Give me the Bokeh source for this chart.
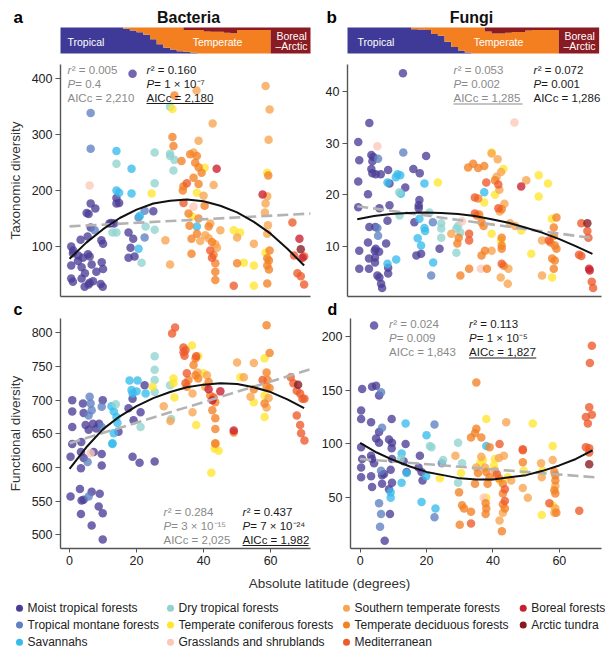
from bokeh.plotting import figure
from bokeh.layouts import column, row
from bokeh.models import Label, Range1d, FixedTicker
from bokeh.embed import file_html
from bokeh.resources import INLINE

FONT = "Liberation Sans"

# ---------------- data ----------------
BIOMES = ["MT", "TM", "SV", "DT", "TC", "GS", "ST", "TD", "MD", "BF", "AT"]
BIOME_LABELS = ["Moist tropical forests", "Tropical montane forests", "Savannahs",
                "Dry tropical forests", "Temperate coniferous forests", "Grasslands and shrublands",
                "Southern temperate forests", "Temperate deciduous forests", "Mediterranean",
                "Boreal forests", "Arctic tundra"]
BIOME_COLORS = ["#4b3d96", "#5f80c2", "#37bbec", "#8fd3cf", "#ffe62e", "#fbc8b8",
                "#f8a450", "#f48024", "#ee5a2a", "#c91f2e", "#861a20"]

ZONE_COLORS = ["#3f3a97", "#f37f21", "#8a1b22"]

BAND_LAT = [-4, -2, 0, 2, 4, 6, 8, 10, 12, 14, 16, 18, 20, 22, 24, 26, 28, 30, 32, 34, 36,
            38, 40, 42, 44, 46, 48, 50, 52, 54, 56, 58, 60, 62, 64, 66, 68, 70]
A_BAND_TROP = [1, 1, 1, 1, 1, 1, 1, 1, 1, 1, 0.95, 0.88, 0.82, 0.72, 0.55, 0.36, 0.22, 0.15, 0.09, 0.07, 0.03,
               0, 0, 0, 0, 0, 0, 0, 0, 0, 0, 0, 0, 0, 0, 0, 0, 0]
A_BAND_BOREAL = [0, 0, 0, 0, 0, 0, 0, 0, 0, 0, 0, 0, 0, 0, 0, 0, 0, 0, 0, 0.1, 0.1,
                 0.1, 0.15, 0.16, 0.16, 0.2, 0.22, 0.1, 0.1, 0.1, 0.1, 0.1, 1, 1, 1, 1, 1, 1]
B_BAND_TROP = [1, 1, 1, 1, 1, 1, 1, 1, 1, 1, 0.93, 0.92, 0.9, 0.75, 0.68, 0.45, 0.25, 0.12, 0.04, 0, 0,
               0, 0, 0, 0, 0, 0, 0, 0, 0, 0, 0, 0, 0, 0, 0, 0, 0]
B_BAND_BOREAL = [0, 0, 0, 0, 0, 0, 0, 0, 0, 0, 0, 0, 0, 0, 0, 0, 0, 0, 0, 0, 0,
                 0.15, 0.23, 0.23, 0.2, 0.17, 0.17, 0.12, 0.1, 0.1, 0.1, 0.1, 1, 1, 1, 1, 1, 1]

A_POINTS = [
    (18.8, 409, "MT"), (6.3, 339, "TM"), (6.3, 275, "TM"), (14, 271, "SV"), (25.4, 268, "DT"), (30, 266, "DT"),
    (30, 350, "DT"), (30.7, 346, "TC"), (31.3, 370, "TD"), (37.9, 379, "ST"), (30.7, 296, "TD"), (31, 280, "TD"),
    (38.5, 289, "ST"), (42.7, 320, "ST"), (58.5, 387, "ST"), (59.7, 345, "ST"), (59.4, 291, "ST"), (37, 268, "ST"),
    (36, 265, "TD"), (38, 262, "TD"), (33.4, 253, "TD"), (14, 248, "DT"), (18.5, 239, "SV"), (30, 262, "DT"),
    (31.3, 255, "DT"), (31, 236, "DT"), (25.4, 213, "DT"), (24.5, 195, "TC"), (37.5, 250, "TD"), (38.5, 242, "TD"),
    (39.4, 232, "TD"), (40.3, 241, "TC"), (43.9, 239, "BF"), (37, 223, "TD"), (35, 213, "MD"), (34, 208, "TD"),
    (33.8, 200, "TD"), (38.5, 212, "TD"), (38, 196, "TC"), (40, 191, "ST"), (43, 210, "ST"), (34, 178, "MD"),
    (37, 171, "GS"), (35.5, 159, "TD"), (36.5, 154, "TC"), (40.3, 173, "TD"), (38.5, 150, "TD"), (42, 141, "ST"),
    (41.5, 136, "TD"), (38, 136, "SV"), (35.8, 137, "TD"), (45, 129, "ST"), (40.5, 120, "ST"), (41.5, 115, "ST"),
    (42.5, 108, "TD"), (43.5, 104, "ST"), (44, 98, "ST"), (36.4, 114, "TD"), (38, 123, "TD"), (39, 110, "ST"),
    (42, 93, "MD"), (43, 85, "TD"), (42.5, 80, "MD"), (43.5, 70, "TD"), (43.5, 55, "TD"), (43.5, 40, "TD"),
    (36.4, 87, "TD"), (30, 68, "ST"), (28.6, 111, "ST"), (49, 129, "TC"), (50.9, 125, "TC"), (50, 116, "ST"),
    (55, 105, "ST"), (50, 70, "TD"), (52, 71, "TC"), (49, 30, "MD"), (55, 30, "TC"), (59, 34, "TD"),
    (55, 66, "TC"), (58.5, 89, "TC"), (59, 79, "TD"), (59.5, 75, "TD"), (59, 66, "TD"), (59.5, 59, "TD"),
    (59, 232, "TC"), (59.3, 227, "TD"), (57.6, 193, "BF"), (59, 190, "ST"), (58.5, 177, "ST"), (58.3, 161, "ST"),
    (59.2, 138, "ST"), (59, 123, "ST"), (59.7, 93, "TD"), (66.5, 143, "MD"), (68.6, 114, "BF"), (69, 95, "AT"),
    (67, 84, "MD"), (69.5, 80, "BF"), (70, 82, "MD"), (68, 52, "MD"), (69, 47, "MD"), (70, 32, "MD"),
    (6, 209, "GS"), (6.3, 177, "MT"), (7.7, 168, "MT"), (5.1, 160, "MT"), (5.7, 158, "MT"), (11.9, 141, "MT"),
    (6.3, 134, "MT"), (7.5, 129, "TM"), (0.5, 100, "MT"), (1.1, 93, "MT"), (3.3, 112, "MT"), (5.4, 118, "MT"),
    (9.5, 111, "MT"), (10, 105, "MT"), (1, 88, "MT"), (2.6, 84, "MT"), (4, 80, "MT"), (5.5, 86, "MT"),
    (6, 82, "MT"), (0.5, 66, "MT"), (3.6, 63, "MT"), (6.6, 68, "MT"), (9.6, 72, "MT"), (10, 60, "MT"),
    (0.5, 43, "MT"), (1, 37, "MT"), (3.6, 43, "MT"), (6, 35, "MT"), (9.3, 33, "MT"), (9.9, 28, "MT"),
    (4.5, 28, "MT"), (5.7, 32, "MT"), (7, 38, "MT"), (2.5, 74, "MT"), (8, 55, "MT"), (4.6, 52, "MT"),
    (14, 125, "DT"), (13.3, 141, "MT"), (12.5, 142, "MT"), (17.6, 125, "MT"), (19, 114, "MT"), (18.2, 98, "MT"),
    (19.4, 82, "MT"), (17.6, 80, "MT"), (20.6, 96, "SV"), (21.5, 71, "DT"), (22.4, 116, "TM"), (22.7, 136, "DT"),
    (20.6, 152, "TM"), (21, 155, "SV"), (25, 163, "MT"), (22.4, 164, "TM"), (14, 200, "SV"), (14.8, 196, "SV"),
    (14, 187, "MT"), (14.8, 178, "MT"), (14, 177, "MT"), (18.5, 195, "SV"), (25.4, 130, "DT"), (12.8, 125, "DT"),
]

B_POINTS = [
    (13.6, 43.5, "MT"), (3.6, 33.9, "MT"), (0.3, 30.2, "MT"), (6, 29.4, "GS"), (13.7, 28.2, "TM"), (20.5, 27.5, "MT"),
    (4.8, 27.3, "MT"), (6.2, 27, "TM"), (0.6, 26.7, "MT"), (40, 28, "ST"), (41.8, 26.9, "ST"), (46.8, 34, "GS"),
    (4.2, 27.7, "MT"), (4.5, 26.5, "MT"), (4.2, 25, "MT"), (4.5, 24.2, "MT"), (5.5, 24, "MT"), (7, 24, "MT"),
    (0.3, 22.6, "MT"), (3.2, 20.1, "MT"), (9.2, 24.8, "MT"), (9.6, 22.2, "MT"), (9, 22.4, "SV"),
    (12, 24, "SV"), (12.8, 23.8, "SV"), (11.5, 23.4, "SV"), (12.5, 20.5, "DT"), (13, 20.2, "SV"), (14.3, 21.4, "MT"),
    (16.7, 25, "MT"), (18.6, 24.2, "MT"), (20, 22.2, "SV"), (24, 22.4, "TC"), (18.5, 19, "MT"),
    (18.3, 18, "MT"), (18.3, 17.4, "MT"), (9.6, 18, "MT"), (6.6, 17.4, "MT"), (0.3, 17.6, "MT"), (12.6, 16, "DT"),
    (9, 15, "MT"), (17, 14.7, "MT"), (18.5, 15.4, "SV"), (21.5, 16.6, "DT"), (3.6, 13.8, "MT"), (5.4, 13.8, "MT"),
    (6, 13.6, "TM"), (6.2, 12.1, "TM"), (20, 13.6, "SV"), (20.2, 13, "SV"), (22.5, 14.7, "TM"), (25, 14.5, "DT"),
    (25, 13.5, "DT"), (25, 11.7, "DT"), (24.5, 9.6, "MT"), (0.6, 9.2, "MT"), (3.2, 10.8, "MT"), (5.5, 9.6, "MT"),
    (5.2, 9.2, "MT"), (6.5, 9, "MT"), (8.6, 10.6, "MT"), (0.6, 5.7, "MT"), (3.5, 5.7, "MT"), (3.5, 7.7, "MT"),
    (5.3, 7.9, "MT"), (5.3, 6.9, "MT"), (9.2, 5.9, "MT"), (9.2, 4.8, "MT"), (9, 6.7, "SV"), (6, 4.4, "MT"),
    (6.6, 4, "MT"), (7.1, 2.8, "MT"), (7.4, 2, "MT"), (11.6, 7.5, "SV"), (17.6, 8.3, "MT"), (19, 8.6, "MT"),
    (18, 11.6, "SV"), (19, 10.2, "SV"), (22.6, 6.9, "SV"), (22, 4.4, "TM"), (29.5, 8.8, "DT"), (29.5, 13.5, "DT"),
    (30.7, 12.7, "DT"), (30, 14, "DT"), (28, 12.5, "ST"), (31.2, 14.9, "GS"), (29.8, 10.6, "TD"), (30.2, 11.7, "TD"),
    (30.7, 4.4, "TD"), (33.3, 12.5, "MD"), (33.3, 11.2, "MD"), (33.3, 5.7, "TD"), (33, 25.3, "TD"), (34.5, 26, "TD"),
    (36, 25.2, "TD"), (37.8, 25.6, "TD"), (35, 19.5, "MD"), (36, 19.3, "TD"), (35, 16.4, "MD"), (35.6, 16, "TD"),
    (36.3, 16.2, "TD"), (37, 14.7, "TD"), (37.6, 14, "TD"), (37.8, 20.5, "SV"), (37.8, 18.5, "TC"), (38.4, 22.4, "MD"),
    (37, 8.3, "TD"), (38, 9.2, "TD"), (40, 9.2, "ST"), (36.8, 5.7, "GS"), (38.6, 5.7, "TD"), (40, 12.5, "TC"),
    (41, 22.8, "TD"), (41.5, 23.5, "ST"), (42, 22, "MD"), (42.3, 21, "ST"), (40, 28.2, "TC"), (42.8, 24.4, "ST"),
    (43.5, 25, "TC"), (41, 20, "TC"), (42, 17.4, "MD"), (42.4, 16.8, "ST"), (43, 17.2, "TD"), (43.8, 18.3, "ST"),
    (43, 11.7, "TD"), (43, 10.2, "TD"), (43, 9.6, "TD"), (42.8, 11.2, "TC"), (43, 6.7, "MD"), (43.6, 6.3, "TD"),
    (45, 5.7, "ST"), (42.7, 4, "ST"), (44.8, 2.8, "ST"), (45.5, 14.5, "ST"), (47, 14, "ST"), (48.8, 13.1, "TC"),
    (48.8, 21.6, "BF"), (50.3, 22.8, "ST"), (54, 23.8, "TC"), (56.8, 22.2, "TC"), (54, 19.7, "TC"), (51.8, 8.6, "TC"),
    (55, 11.2, "ST"), (57, 11.2, "MD"), (57.5, 10.8, "TD"), (55, 4.4, "ST"), (57.9, 15.4, "TC"), (58.5, 13.7, "TD"),
    (59.3, 15.6, "TD"), (58.5, 12.1, "TD"), (58.8, 10.2, "TD"), (59.3, 9.6, "TD"), (58, 7.7, "TD"), (58.8, 7.3, "TD"),
    (58.5, 5.7, "TD"), (58, 4, "TC"), (66.7, 14.5, "MD"), (68.5, 14.5, "AT"), (68.5, 13, "MD"), (68.8, 11.7, "MD"),
    (66, 8.4, "MD"), (66.7, 8.2, "MD"), (69, 5.7, "BF"), (69.2, 5.4, "BF"), (69.8, 3.2, "MD"), (70.2, 2, "MD"),
]

C_POINTS = [
    (0.8, 700, "MT"), (0.8, 683, "MT"), (0.8, 660, "MT"), (0.8, 635, "MT"), (4, 695, "MT"), (4.2, 681, "MT"),
    (3.5, 638, "MT"), (6, 705, "TM"), (6.3, 695, "TM"), (6.6, 685, "TM"), (5.7, 677, "TM"), (4.8, 663, "MT"),
    (5.7, 656, "MT"), (9.9, 700, "MT"), (9.6, 690, "TM"), (7, 665, "MT"), (8, 658, "MT"), (8.8, 665, "MT"),
    (9.6, 660, "TM"), (12.5, 691, "SV"), (13.8, 694, "DT"), (13.2, 683, "SV"), (14, 675, "SV"), (14.3, 666, "SV"),
    (13.2, 651, "SV"), (12.8, 636, "SV"), (14.6, 653, "MT"), (17.6, 688, "MT"), (18.5, 715, "SV"), (20.3, 729, "SV"),
    (20, 713, "SV"), (17.9, 729, "SV"), (18.8, 710, "SV"), (18.8, 702, "MT"), (19.1, 670, "MT"), (21.2, 682, "MT"),
    (22.4, 722, "MT"), (22.7, 710, "SV"), (21.2, 660, "DT"), (24.8, 720, "TC"), (25.4, 765, "DT"), (25.4, 745, "DT"),
    (25.4, 730, "DT"), (25.4, 712, "DT"), (28.1, 691, "ST"), (30.1, 669, "ST"), (30, 722, "DT"), (30.3, 672, "DT"),
    (31, 732, "TC"), (31, 725, "TC"), (31.3, 704, "TC"), (30.6, 799, "MD"), (31.5, 808, "MD"), (34, 778, "MD"),
    (34, 771, "MD"), (34.3, 766, "MD"), (34.6, 774, "MD"), (35, 740, "MD"), (35.5, 730, "TD"), (34.6, 725, "MD"),
    (35, 720, "TD"), (36.7, 710, "ST"), (36.7, 682, "ST"), (36.5, 781, "TC"), (37.8, 765, "MD"), (37.6, 762, "TD"),
    (37, 752, "TD"), (38.4, 765, "TC"), (37.6, 737, "TD"), (38.4, 732, "TD"), (38.2, 741, "ST"), (37.8, 663, "TC"),
    (40, 740, "TC"), (41, 737, "ST"), (41.5, 727, "TD"), (40.5, 720, "ST"), (41.5, 716, "BF"), (42, 707, "TD"),
    (43, 704, "MD"), (42.6, 700, "BF"), (43.5, 697, "TD"), (42.6, 685, "TD"), (43.5, 673, "TD"), (43.5, 657, "TD"),
    (43.5, 636, "TD"), (45, 713, "BF"), (50, 756, "ST"), (51, 734, "TC"), (52, 734, "ST"), (49, 655, "BF"),
    (49, 652, "TD"), (54, 705, "ST"), (55, 697, "TC"), (55, 755, "ST"), (55, 716, "TD"), (58.8, 811, "TD"),
    (59.7, 770, "TD"), (58.2, 762, "TC"), (58.8, 741, "TD"), (59.1, 730, "TD"), (58.8, 720, "TD"), (58.2, 707, "TC"),
    (59.4, 703, "ST"), (58.2, 695, "TD"), (58.8, 689, "ST"), (58.2, 675, "TC"), (59.7, 718, "TD"), (57.6, 730, "MD"),
    (66, 734, "MD"), (66.8, 725, "MD"), (68.2, 723, "AT"), (67.8, 714, "MD"), (68.8, 710, "MD"), (69.5, 702, "MD"),
    (70.1, 702, "MD"), (67.8, 677, "MD"), (68.8, 663, "MD"), (69.1, 651, "MD"), (70.1, 640, "MD"),
    (0.3, 616, "MT"), (3.4, 623, "MT"), (4.2, 614, "MT"), (5.4, 608, "TM"), (6.3, 621, "GS"), (7.2, 623, "MT"),
    (9.6, 620, "MT"), (9.6, 603, "MT"), (3.4, 599, "MT"), (12.8, 635, "SV"), (18.8, 616, "MT"), (20.9, 607, "MT"),
    (25.4, 609, "MT"), (0.3, 557, "MT"), (3.1, 568, "MT"), (3.6, 551, "MT"), (4.2, 552, "MT"), (5.7, 557, "TM"),
    (6.6, 564, "MT"), (9, 561, "MT"), (3.4, 531, "MT"), (8.7, 542, "MT"), (9.9, 532, "MT"), (6.6, 514, "MT"),
    (9.9, 493, "MT"), (43.5, 635, "ST"), (43.3, 628, "TC"), (44.5, 625, "TC"), (42.3, 592, "TC"),
]

D_POINTS = [
    (4.2, 210, "MT"), (0.6, 151, "MT"), (3.6, 153, "MT"), (4.8, 154, "MT"), (5.7, 145, "MT"), (6.3, 148, "TM"),
    (0.3, 131, "MT"), (0.3, 123, "MT"), (3.3, 120, "MT"), (6.6, 115, "TM"), (5.7, 111, "MT"), (4.8, 105, "MT"),
    (5.7, 101, "MT"), (9.5, 123, "MT"), (8.7, 104, "MT"), (9.5, 96, "MT"), (13.7, 119, "SV"), (13.7, 100, "MT"),
    (22.4, 118, "TM"), (20, 108, "SV"), (21, 98, "DT"), (29.5, 101, "DT"), (35, 157, "TD"), (35, 114, "TD"),
    (34.6, 110, "TD"), (33.4, 106, "TD"), (36.5, 106, "TD"), (38, 123, "TC"), (38, 98, "SV"), (39, 97, "TD"),
    (42, 100, "MD"), (44, 120, "ST"), (52, 119, "TC"), (58, 98, "TC"), (49, 95, "MD"), (69.8, 191, "MD"),
    (69.2, 175, "MD"), (69, 134, "MD"), (69.8, 127, "MD"), (68, 125, "MD"), (68.6, 119, "MD"), (68, 97, "MD"),
    (69, 96, "MD"), (0.3, 97, "MT"), (0.6, 86, "MT"), (0.3, 78, "MT"), (0.3, 69, "MT"), (3.3, 89, "MT"),
    (3.6, 86, "MT"), (4.2, 82, "MT"), (3.3, 70, "MT"), (3.6, 60, "MT"), (6.3, 75, "TM"), (7.2, 72, "MT"),
    (6.6, 71, "MT"), (6.6, 63, "MT"), (5.7, 45, "TM"), (6.3, 35, "TM"), (6, 23, "TM"), (7.4, 10, "MT"),
    (8.7, 58, "MT"), (9.2, 55, "SV"), (9.2, 50, "SV"), (9, 35, "MT"), (9.6, 101, "MT"), (9.6, 86, "MT"),
    (9.2, 76, "MT"), (9.6, 64, "MT"), (12.5, 91, "SV"), (12.2, 86, "DT"), (13.1, 84, "MT"), (14, 74, "MT"),
    (14, 73, "SV"), (12.5, 64, "SV"), (18, 89, "MT"), (17.6, 78, "MT"), (18.5, 74, "MT"), (18.8, 66, "MT"),
    (19.9, 70, "SV"), (18.5, 46, "SV"), (22.7, 40, "SV"), (22.4, 32, "TM"), (21.5, 97, "DT"), (24, 68, "TC"),
    (24.6, 82, "TM"), (25, 85, "DT"), (28.7, 89, "ST"), (29.5, 64, "DT"), (29.8, 55, "TD"), (30.7, 82, "DT"),
    (30.4, 73, "TC"), (30.7, 43, "TD"), (31.3, 40, "TD"), (30, 25, "TD"), (33.4, 26, "MD"), (33.4, 37, "TD"),
    (34.6, 63, "TD"), (35, 78, "ST"), (35.5, 73, "TD"), (36.2, 82, "TC"), (36.5, 88, "ST"), (37, 85, "TC"),
    (37.6, 78, "ST"), (38, 74, "TD"), (38, 50, "TC"), (37.2, 50, "GS"), (37.8, 45, "TD"), (38, 40, "TD"),
    (37.8, 35, "TD"), (38.4, 63, "TD"), (39, 69, "TD"), (40.3, 80, "TC"), (40.6, 75, "ST"), (41.2, 72, "MD"),
    (41.8, 68, "TD"), (42.1, 66, "TC"), (40.6, 86, "TC"), (41.8, 87, "ST"), (43.3, 89, "ST"), (43, 63, "TD"),
    (43.6, 58, "MD"), (43, 54, "TD"), (43.6, 47, "MD"), (43, 44, "TD"), (43.6, 40, "TD"), (43, 36, "ST"),
    (42, 29, "ST"), (42.7, 19, "TD"), (44.5, 69, "TC"), (45.5, 66, "ST"), (49, 94, "MD"), (49, 83, "TD"),
    (49.3, 75, "TC"), (49, 59, "ST"), (50.5, 50, "ST"), (54.5, 82, "ST"), (55, 75, "TC"), (54.7, 69, "ST"),
    (54.7, 34, "TC"), (57, 45, "MD"), (58, 85, "ST"), (58.5, 74, "TD"), (58.8, 71, "TD"), (58.8, 66, "TD"),
    (58.8, 61, "ST"), (58.5, 57, "TD"), (58.8, 54, "TD"), (58, 43, "TC"), (58.8, 40, "ST"), (59.1, 36, "TD"),
    (58.5, 36, "ST"), (66, 38, "MD"), (69, 81, "AT"), (69, 92, "MD"),
]

FIT_LAT = [0, 5, 10, 15, 20, 25, 30, 35, 40, 45, 50, 55, 60, 65, 70]
A_QUAD = [78, 107, 131, 151, 166, 177, 182, 184, 181, 173, 161, 144, 123, 96, 66]
B_QUAD = [15.3, 15.9, 16.3, 16.5, 16.6, 16.5, 16.3, 15.9, 15.3, 14.6, 13.7, 12.7, 11.5, 10.1, 8.6]
C_QUAD = [598, 630, 657, 676, 691, 703, 712, 719, 723, 725, 724, 719, 712, 701, 688]
D_QUAD = [101, 92, 85, 79, 74, 71, 68, 67, 67, 69, 71, 75, 80, 86, 94]
A_LIN_LAT, A_LIN = [0, 72], [136, 159]
B_LIN_LAT, B_LIN = [0, 70.5], [17.8, 11.6]
C_LIN_LAT, C_LIN = [0, 72], [636, 746]
D_LIN_LAT, D_LIN = [0, 70.7], [86, 69]

# (r2, P, AICc) for the linear (grey) and quadratic (black) fits
A_STATS_LIN, A_STATS_QUAD = ["0.005", "0.4", "2,210"], ["0.160", "1 × 10⁻⁷", "2,180"]
B_STATS_LIN, B_STATS_QUAD = ["0.053", "0.002", "1,285"], ["0.072", "0.001", "1,286"]
C_STATS_LIN, C_STATS_QUAD = ["0.284", "3 × 10⁻¹⁵", "2,025"], ["0.437", "7 × 10⁻²⁴", "1,982"]
D_STATS_LIN, D_STATS_QUAD = ["0.024", "0.009", "1,843"], ["0.113", "1 × 10⁻⁵", "1,827"]

A_TICKS = [100, 200, 300, 400]
B_TICKS = [10, 20, 30, 40]
C_TICKS = [500, 550, 600, 650, 700, 750, 800]
D_TICKS = [50, 100, 150, 200]
X_TICKS = [0, 20, 40, 60]

# ---------------- helpers ----------------
GREY_TXT = "#8a8a8a"
BLACK_TXT = "#1a1a1a"


class Geo:
    """maps page pixel positions to data coordinates of a frame"""
    def __init__(self, left, top, w, h, xr, yr):
        self.left, self.top, self.w, self.h, self.xr, self.yr = left, top, w, h, xr, yr

    def xy(self, px, py):
        x = self.xr[0] + (px - self.left) / self.w * (self.xr[1] - self.xr[0])
        y = self.yr[1] - (py - self.top) / self.h * (self.yr[1] - self.yr[0])
        return x, y

    def ranges(self, px0, py0, px1, py1):
        x0, y1 = self.xy(px0, py0)
        x1, y0 = self.xy(px1, py1)
        return (x0, x1), (y0, y1)


def make_fig(width, height, left, right, top, bottom, xr, yr, axes=True):
    kw = {}
    if not axes:
        kw = dict(x_axis_location=None, y_axis_location=None)
    p = figure(width=width, height=height, x_range=Range1d(*xr), y_range=Range1d(*yr),
               output_backend="svg", toolbar_location=None,
               min_border_left=left, min_border_right=right,
               min_border_top=top, min_border_bottom=bottom, **kw)
    p.outline_line_color = None
    p.grid.visible = False
    p.background_fill_color = "white"
    p.border_fill_color = "white"
    return p


def lab(p, g, px, py, text, size, color, style="normal", align="left", baseline="middle"):
    x, y = g.xy(px, py)
    p.add_layout(Label(x=x, y=y, text=text, text_font=FONT, text_font_size=f"{size}px",
                       text_color=color, text_font_style=style, text_align=align,
                       text_baseline=baseline))


def style_axes(p, yticks, ylabel, xticks):
    ya = p.yaxis[0]
    ya.ticker = FixedTicker(ticks=yticks)
    ya.axis_line_color = "#555555"
    ya.axis_line_width = 1.4
    ya.major_tick_line_color = "#555555"
    ya.major_tick_out = 5
    ya.major_tick_in = 0
    ya.minor_tick_line_color = None
    ya.major_label_standoff = 3
    ya.major_label_text_font = FONT
    ya.major_label_text_font_size = "12.5px"
    ya.major_label_text_color = "#222222"
    if ylabel:
        ya.axis_label = ylabel
        ya.axis_label_text_font = FONT
        ya.axis_label_text_font_size = "13.5px"
        ya.axis_label_text_font_style = "normal"
        ya.axis_label_text_color = "#333333"
        ya.axis_label_standoff = 6
    xa = p.xaxis[0]
    xa.ticker = FixedTicker(ticks=xticks)
    xa.axis_line_color = "#555555"
    xa.axis_line_width = 1.4
    xa.major_tick_line_color = "#555555"
    xa.minor_tick_line_color = None
    xa.major_tick_in = 0
    if xticks:
        xa.major_tick_out = 4
        xa.major_label_standoff = 3
        xa.major_label_text_font = FONT
        xa.major_label_text_font_size = "12.5px"
        xa.major_label_text_color = "#222222"
    else:
        xa.major_tick_out = 0
        xa.major_label_standoff = 0
        xa.major_label_text_font_size = "0px"


def draw_points(p, pts):
    for code, color in zip(BIOMES, BIOME_COLORS):
        xs = [a for a, b, c in pts if c == code]
        ys = [b for a, b, c in pts if c == code]
        if xs:
            p.scatter(xs, ys, size=8.5, fill_color=color, fill_alpha=0.78, line_color=None)


def draw_fits(p, lin_lat, lin, quad):
    p.line(lin_lat, lin, line_color="#b3b3b3", line_width=2.6, line_dash="11 5")
    p.line(FIT_LAT, quad, line_color="#111111", line_width=2.0)


def draw_stats(p, g, px_grey, px_black, py, lin, quad, underline, ul_len):
    for px, vals, col in ((px_grey, lin, GREY_TXT), (px_black, quad, BLACK_TXT)):
        lab(p, g, px, py, "r", 11.5, col, style="italic")
        lab(p, g, px + 4.2, py, "² = " + vals[0], 11.5, col)
        lab(p, g, px, py + 14, "P", 11.5, col, style="italic")
        lab(p, g, px + 7.8, py + 14, " = " + vals[1], 11.5, col)
        lab(p, g, px, py + 28, "AICc = " + vals[2], 11.5, col)
    ux = px_grey if underline == "lin" else px_black
    ucol = GREY_TXT if underline == "lin" else BLACK_TXT
    x0, y0 = g.xy(ux, py + 34)
    x1, _ = g.xy(ux + ul_len, py + 34)
    p.line([x0, x1], [y0, y0], line_color=ucol, line_width=1.1)


def draw_band(p, lat, trop, boreal, xr):
    xs, t, b = [], [], []
    for l, tr, bo in zip(lat, trop, boreal):
        xs += [min(max(l, xr[0]), xr[1]), min(max(l + 2, xr[0]), xr[1])]
        t += [tr, tr]
        b += [1 - bo, 1 - bo]
    zeros = [0] * len(xs)
    ones = [1] * len(xs)
    p.varea(x=xs, y1=zeros, y2=t, fill_color=ZONE_COLORS[0])
    p.varea(x=xs, y1=t, y2=b, fill_color=ZONE_COLORS[1])
    p.varea(x=xs, y1=b, y2=ones, fill_color=ZONE_COLORS[2])


# ---------------- figures (page coordinates: origin at top-left) ----------------
XR_L = (-2.7, 71.9)
XR_R = (-2.9, 72.7)
YR_A = (10.6, 425.6)
YR_B = (0.35, 45.2)
YR_C = (479.7, 821.2)
YR_D = (2.9, 216.4)
LEFT_W, RIGHT_W = 318, 295
FULL_W = LEFT_W + RIGHT_W

# top bands (frame = whole canvas, so headings stay inside it)
gband_a = Geo(60, 27, 250, 26, XR_L, (0, 1))
xr, yr = gband_a.ranges(0, 0, LEFT_W, 58)
ta = make_fig(LEFT_W, 58, 0, 0, 0, 0, xr, yr, axes=False)
draw_band(ta, BAND_LAT, A_BAND_TROP, A_BAND_BOREAL, XR_L)
lab(ta, gband_a, 13, 17, "a", 17, "#000000", style="bold")
lab(ta, gband_a, 188, 17, "Bacteria", 16, "#111111", style="bold", align="center")
lab(ta, gband_a, 67, 41, "Tropical", 10.5, "white")
lab(ta, gband_a, 217, 41, "Temperate", 10.5, "white", align="center")
lab(ta, gband_a, 276, 35.5, "Boreal", 10.5, "white")
lab(ta, gband_a, 275, 45.5, "–Arctic", 10.5, "white")

gband_b = Geo(347, 27, 254, 26, XR_R, (0, 1))
xr, yr = gband_b.ranges(LEFT_W, 0, FULL_W, 58)
tb = make_fig(RIGHT_W, 58, 0, 0, 0, 0, xr, yr, axes=False)
draw_band(tb, BAND_LAT, B_BAND_TROP, B_BAND_BOREAL, XR_R)
lab(tb, gband_b, 326, 17, "b", 17, "#000000", style="bold")
lab(tb, gband_b, 471, 17, "Fungi", 16, "#111111", style="bold", align="center")
lab(tb, gband_b, 357, 41, "Tropical", 10.5, "white")
lab(tb, gband_b, 498, 41, "Temperate", 10.5, "white", align="center")
lab(tb, gband_b, 564, 35.5, "Boreal", 10.5, "white")
lab(tb, gband_b, 563, 45.5, "–Arctic", 10.5, "white")

# panel a  (page y 58..298, frame 64..296)
pa = make_fig(LEFT_W, 240, 60, 8, 6, 2, XR_L, YR_A)
ga = Geo(60, 64, 250, 232, XR_L, YR_A)
style_axes(pa, A_TICKS, "Taxonomic diversity", [])
draw_points(pa, A_POINTS)
draw_fits(pa, A_LIN_LAT, A_LIN, A_QUAD)
draw_stats(pa, ga, 67, 146, 69, A_STATS_LIN, A_STATS_QUAD, "quad", 67)

# panel b
pb = make_fig(RIGHT_W, 240, 29, 12, 6, 2, XR_R, YR_B)
gb = Geo(347, 64, 254, 232, XR_R, YR_B)
style_axes(pb, B_TICKS, None, [])
draw_points(pb, B_POINTS)
draw_fits(pb, B_LIN_LAT, B_LIN, B_QUAD)
draw_stats(pb, gb, 453, 533, 69.5, B_STATS_LIN, B_STATS_QUAD, "lin", 69)

# strip holding the panel letters c and d (page y 298..318)
STRIP_H = 20
gstrip = Geo(0, 298, FULL_W, STRIP_H, (0, FULL_W), (0, STRIP_H))
strip = make_fig(FULL_W, STRIP_H, 0, 0, 0, 0, (0, FULL_W), (0, STRIP_H), axes=False)
lab(strip, gstrip, 13, 308.5, "c", 16, "#000000", style="bold")
lab(strip, gstrip, 327, 308.5, "d", 16, "#000000", style="bold")

# panel c  (page y 318..570, frame 318..548)
pc = make_fig(LEFT_W, 252, 60, 8, 0, 22, XR_L, YR_C)
gc = Geo(60, 318, 250, 230, XR_L, YR_C)
style_axes(pc, C_TICKS, "Functional diversity", X_TICKS)
draw_points(pc, C_POINTS)
draw_fits(pc, C_LIN_LAT, C_LIN, C_QUAD)
draw_stats(pc, gc, 163, 242, 511, C_STATS_LIN, C_STATS_QUAD, "quad", 66)

# panel d
pd_ = make_fig(RIGHT_W, 252, 29, 12, 0, 22, XR_R, YR_D)
gd = Geo(347, 318, 254, 230, XR_R, YR_D)
style_axes(pd_, D_TICKS, None, X_TICKS)
draw_points(pd_, D_POINTS)
draw_fits(pd_, D_LIN_LAT, D_LIN, D_QUAD)
draw_stats(pd_, gd, 386, 467, 323.5, D_STATS_LIN, D_STATS_QUAD, "quad", 68)

# x label + legend (page y 570..653)
LEG_H = 83
leg = make_fig(FULL_W, LEG_H, 0, 0, 0, 0, (0, FULL_W), (0, LEG_H), axes=False)
gl = Geo(0, 570, FULL_W, LEG_H, (0, FULL_W), (0, LEG_H))
lab(leg, gl, 329, 583.3, "Absolute latitude (degrees)", 13.5, "#333333", align="center")
COL_X = [19, 170, 346, 522.7]
ROW_Y = [607.7, 624.5, 641.7]
bx, by = [], []
for i, (name, color) in enumerate(zip(BIOME_LABELS, BIOME_COLORS)):
    cx, cy = COL_X[i // 3], ROW_Y[i % 3]
    x, y = gl.xy(cx, cy)
    bx.append(x)
    by.append(y)
    lab(leg, gl, cx + 8, cy, name, 12, "#222222")
leg.scatter(bx, by, size=7, fill_color=BIOME_COLORS, line_color=None)

layout = column(row(ta, tb), row(pa, pb), strip, row(pc, pd_), leg)

with open("out.html", "w") as f:
    f.write(file_html(layout, INLINE))
